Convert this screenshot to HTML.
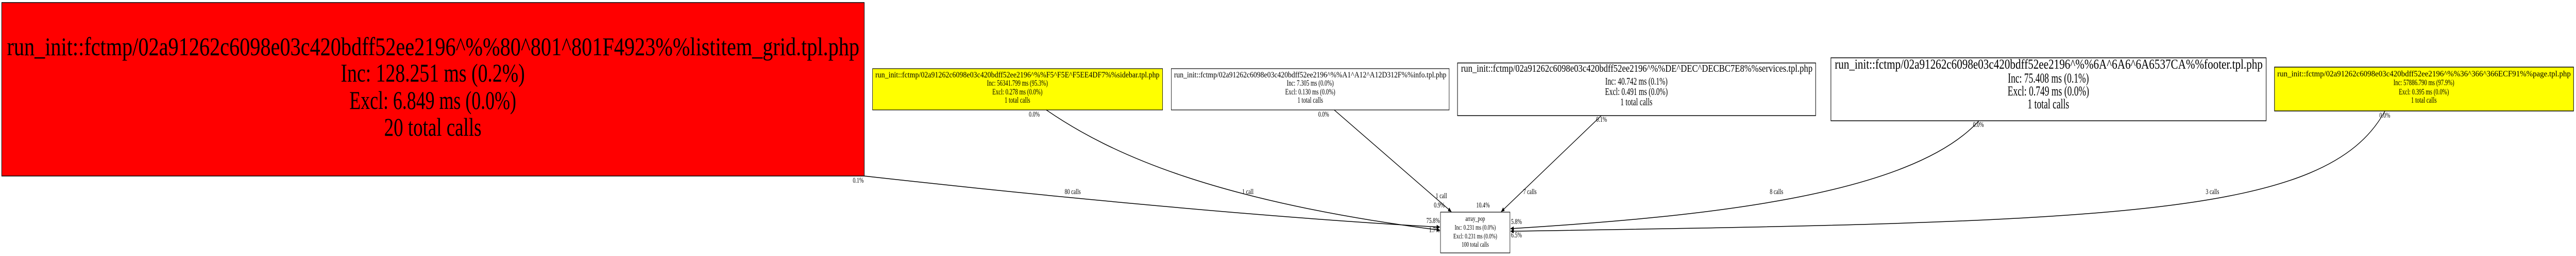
<!DOCTYPE html>
<html><head><meta charset="utf-8"><style>
html,body{margin:0;padding:0;background:#fff;width:100%;height:100%;overflow:hidden}
svg{display:block;width:100vw;height:100vh}
text{font-family:"Liberation Serif",serif;fill:#000}
</style></head><body>
<svg viewBox="0 0 7416 496" preserveAspectRatio="none" xmlns="http://www.w3.org/2000/svg">
<defs><marker id="a" markerWidth="10" markerHeight="8" refX="9" refY="4" orient="auto" markerUnits="userSpaceOnUse"><path d="M0,0 L10,4 L0,8 z" fill="#000"/></marker></defs>
<rect x="5" y="5" width="2483" height="336" fill="#ff0000" stroke="#000" stroke-width="1.5"/>
<text x="20" y="107" font-size="50" textLength="2454" lengthAdjust="spacingAndGlyphs">run_init::fctmp/02a91262c6098e03c420bdff52ee2196^%%80^801^801F4923%%listitem_grid.tpl.php</text>
<text x="1246" y="158" font-size="50" text-anchor="middle" textLength="530" lengthAdjust="spacingAndGlyphs">Inc: 128.251 ms (0.2%)</text>
<text x="1246" y="211" font-size="50" text-anchor="middle" textLength="480" lengthAdjust="spacingAndGlyphs">Excl: 6.849 ms (0.0%)</text>
<text x="1246" y="263" font-size="50" text-anchor="middle" textLength="280" lengthAdjust="spacingAndGlyphs">20 total calls</text>
<rect x="2512" y="133" width="835" height="80" fill="#ffff00" stroke="#000" stroke-width="1.2"/>
<text x="2520" y="150" font-size="16" textLength="818" lengthAdjust="spacingAndGlyphs">run_init::fctmp/02a91262c6098e03c420bdff52ee2196^%%F5^F5E^F5EE4DF7%%sidebar.tpl.php</text>
<text x="2929" y="166" font-size="16" text-anchor="middle">Inc: 56341.799 ms (95.3%)</text>
<text x="2929" y="183" font-size="16" text-anchor="middle">Excl: 0.278 ms (0.0%)</text>
<text x="2929" y="199" font-size="16" text-anchor="middle">1 total calls</text>
<rect x="3372" y="133" width="800" height="80" fill="#fff" stroke="#000" stroke-width="1.2"/>
<text x="3380" y="150" font-size="16" textLength="784" lengthAdjust="spacingAndGlyphs">run_init::fctmp/02a91262c6098e03c420bdff52ee2196^%%A1^A12^A12D312F%%info.tpl.php</text>
<text x="3772" y="166" font-size="16" text-anchor="middle">Inc: 7.305 ms (0.0%)</text>
<text x="3772" y="183" font-size="16" text-anchor="middle">Excl: 0.130 ms (0.0%)</text>
<text x="3772" y="199" font-size="16" text-anchor="middle">1 total calls</text>
<rect x="4196" y="122" width="1031" height="102" fill="#fff" stroke="#000" stroke-width="1.5"/>
<text x="4206" y="139" font-size="20" textLength="1012" lengthAdjust="spacingAndGlyphs">run_init::fctmp/02a91262c6098e03c420bdff52ee2196^%%DE^DEC^DECBC7E8%%services.tpl.php</text>
<text x="4711" y="164" font-size="20" text-anchor="middle">Inc: 40.742 ms (0.1%)</text>
<text x="4711" y="184" font-size="20" text-anchor="middle">Excl: 0.491 ms (0.0%)</text>
<text x="4711" y="204" font-size="20" text-anchor="middle">1 total calls</text>
<rect x="5271" y="112" width="1253" height="122" fill="#fff" stroke="#000" stroke-width="1.5"/>
<text x="5282" y="133" font-size="26" textLength="1232" lengthAdjust="spacingAndGlyphs">run_init::fctmp/02a91262c6098e03c420bdff52ee2196^%%6A^6A6^6A6537CA%%footer.tpl.php</text>
<text x="5897" y="160" font-size="26" text-anchor="middle">Inc: 75.408 ms (0.1%)</text>
<text x="5897" y="185" font-size="26" text-anchor="middle">Excl: 0.749 ms (0.0%)</text>
<text x="5897" y="210" font-size="26" text-anchor="middle">1 total calls</text>
<rect x="6548" y="130" width="861" height="85" fill="#ffff00" stroke="#000" stroke-width="1.5"/>
<text x="6556" y="148" font-size="16" textLength="845" lengthAdjust="spacingAndGlyphs">run_init::fctmp/02a91262c6098e03c420bdff52ee2196^%%36^366^366ECF91%%page.tpl.php</text>
<text x="6978" y="165" font-size="16" text-anchor="middle">Inc: 57886.790 ms (97.9%)</text>
<text x="6978" y="183" font-size="16" text-anchor="middle">Excl: 0.395 ms (0.0%)</text>
<text x="6978" y="199" font-size="16" text-anchor="middle">1 total calls</text>
<rect x="4147" y="411" width="200" height="79" fill="#fff" stroke="#000" stroke-width="1.2"/>
<text x="4247" y="428" font-size="14" text-anchor="middle">array_pop</text>
<text x="4247" y="445" font-size="14" text-anchor="middle">Inc: 0.231 ms (0.0%)</text>
<text x="4247" y="462" font-size="14" text-anchor="middle">Excl: 0.231 ms (0.0%)</text>
<text x="4247" y="478" font-size="14" text-anchor="middle">100 total calls</text>
<g fill="none" stroke="#000" stroke-width="1.5">
<path d="M2488,341 C2900,372 3600,420 4145,440" marker-end="url(#a)"/>
<path d="M3012,213 C3200,300 3500,390 4145,446" marker-end="url(#a)"/>
<path d="M3841,213 L4178,410" marker-end="url(#a)"/>
<path d="M4610,224 L4322,410" marker-end="url(#a)"/>
<path d="M5697,234 C5500,380 4900,420 4349,443" marker-end="url(#a)"/>
<path d="M6866,215 C6700,420 6100,430 4349,448" marker-end="url(#a)"/>
</g>
<g font-size="15">
<text x="2455" y="354">0.1%</text>
<text x="3065" y="376">80 calls</text>
<text x="2962" y="226">0.0%</text>
<text x="3576" y="376">1 call</text>
<text x="3795" y="226">0.0%</text>
<text x="4133" y="384">1 call</text>
<text x="4128" y="402">0.9%</text>
<text x="4145" y="432" text-anchor="end">75.8%</text>
<text x="4145" y="450" text-anchor="end">1.7%</text>
<text x="4595" y="236">0.1%</text>
<text x="4385" y="376">7 calls</text>
<text x="4250" y="402">10.4%</text>
<text x="5680" y="246">0.0%</text>
<text x="5095" y="376">8 calls</text>
<text x="6850" y="228">0.0%</text>
<text x="6350" y="376">3 calls</text>
<text x="4350" y="434">5.8%</text>
<text x="4350" y="460">6.5%</text>
</g>
</svg>
</body></html>
